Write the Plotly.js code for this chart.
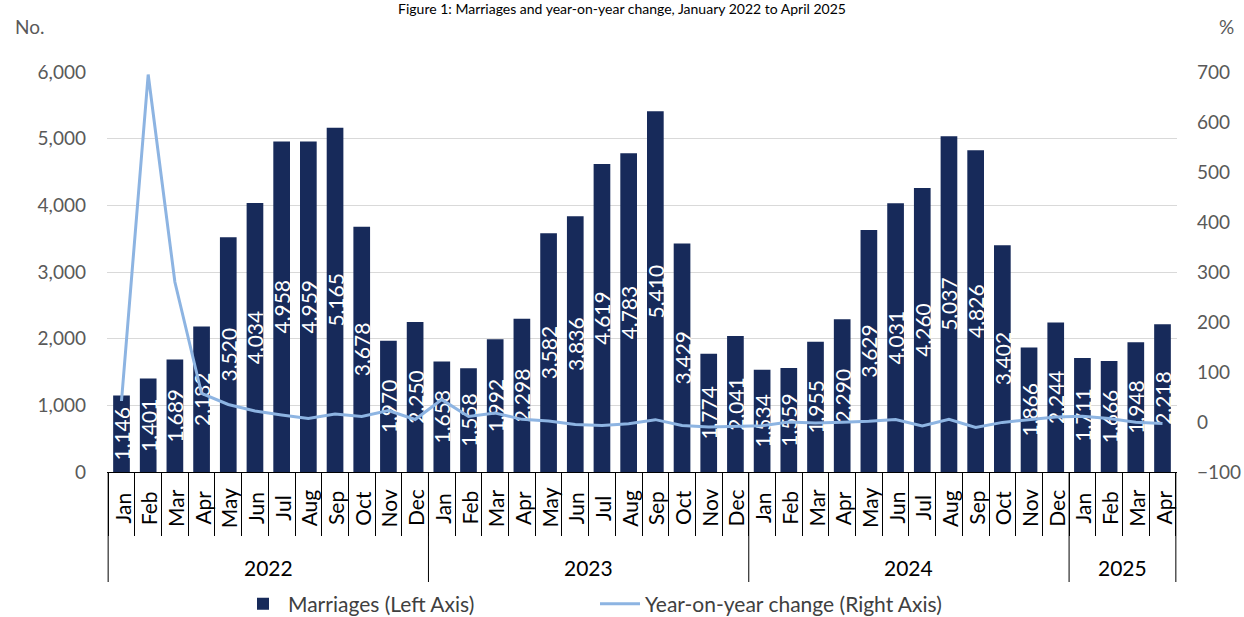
<!DOCTYPE html>
<html>
<head>
<meta charset="utf-8">
<script src="https://cdn.plot.ly/plotly-3.0.1.min.js"></script>
<style>html,body{margin:0;padding:0;background:#fff;}#chart{width:1244px;height:617px;}</style>
</head>
<body>
<div id="chart"></div>
<script>
const years = ['2022','2022','2022','2022','2022','2022','2022','2022','2022','2022','2022','2022',
               '2023','2023','2023','2023','2023','2023','2023','2023','2023','2023','2023','2023',
               '2024','2024','2024','2024','2024','2024','2024','2024','2024','2024','2024','2024',
               '2025','2025','2025','2025'];
const months = ['Jan','Feb','Mar','Apr','May','Jun','Jul','Aug','Sep','Oct','Nov','Dec',
                'Jan','Feb','Mar','Apr','May','Jun','Jul','Aug','Sep','Oct','Nov','Dec',
                'Jan','Feb','Mar','Apr','May','Jun','Jul','Aug','Sep','Oct','Nov','Dec',
                'Jan','Feb','Mar','Apr'];
const marriages = [1146,1401,1689,2182,3520,4034,4958,4959,5165,3678,1970,2250,
                   1658,1558,1992,2298,3582,3836,4619,4783,5410,3429,1774,2041,
                   1534,1559,1955,2290,3629,4031,4260,5037,4826,3402,1866,2244,
                   1711,1666,1948,2218];
const yoyChange = [42,695,280,57,35,22,14,7,16,11,23,5,
                   44.7,11.2,17.9,5.3,1.8,-4.9,-6.8,-3.5,4.7,-6.8,-9.9,-9.3,
                   -7.5,0.1,-1.9,-0.3,1.3,5.1,-7.8,5.3,-10.8,-0.8,5.2,9.9,
                   11.5,6.9,-0.4,-3.1];
const leftTicks = [0,1000,2000,3000,4000,5000,6000];
const rightTicks = [-100,0,100,200,300,400,500,600,700];

const FONT = 'Lato, "Liberation Sans", sans-serif';
const cats = years.map((y, i) => y + ' ' + months[i]);

const barTrace = {
  type: 'bar', name: 'Marriages (Left Axis)', x: cats, y: marriages,
  marker: {color: '#172a5a'},
  texttemplate: '%{y:,.0f}', textposition: 'inside', textangle: -90,
  insidetextanchor: 'middle', constraintext: 'none',
  textfont: {family: FONT, size: 21, color: '#ffffff'},
  hoverinfo: 'skip'
};
const lineTrace = {
  type: 'scatter', mode: 'lines', name: 'Year-on-year change (Right Axis)',
  x: cats, y: yoyChange, yaxis: 'y2',
  line: {color: '#8db4e2', width: 3},
  hoverinfo: 'skip'
};

// plot box in pixels
const L = 107, R = 67, T = 72, B = 145, W = 1244, H = 617;
const PW = W - L - R, PH = H - T - B;

const annotations = [];
const shapes = [];
months.forEach((m, i) => {
  annotations.push({text: m, x: i, xref: 'x', y: -36 / PH, yref: 'paper',
    textangle: -90, showarrow: false, xanchor: 'center', yanchor: 'middle',
    font: {family: FONT, size: 21, color: '#000000'}});
});
let start = 0;
for (let i = 1; i <= years.length; i++) {
  if (i === years.length || years[i] !== years[start]) {
    annotations.push({text: years[start], x: (start + i - 1) / 2, xref: 'x',
      y: -95 / PH, yref: 'paper', showarrow: false, xanchor: 'center', yanchor: 'middle',
      font: {family: FONT, size: 21, color: '#000000'}});
    shapes.push({type: 'line', xref: 'x', yref: 'paper', x0: start - 0.5, x1: start - 0.5,
      y0: 0, y1: -110 / PH, line: {color: '#000000', width: 1}});
    start = i;
  }
}
shapes.push({type: 'line', xref: 'x', yref: 'paper', x0: years.length - 0.5, x1: years.length - 0.5,
  y0: 0, y1: -110 / PH, line: {color: '#000000', width: 1}});

annotations.push({text: 'No.', xref: 'paper', yref: 'paper', x: (13 - L) / PW, y: (H - B - 26) / PH,
  showarrow: false, xanchor: 'left', yanchor: 'middle', font: {family: FONT, size: 19, color: '#595959'}});
annotations.push({text: '%', xref: 'paper', yref: 'paper', x: (1236 - L) / PW, y: (H - B - 26) / PH,
  showarrow: false, xanchor: 'right', yanchor: 'middle', font: {family: FONT, size: 19, color: '#595959'}});

const layout = {
  width: W, height: H,
  margin: {l: L, r: R, t: T, b: B},
  paper_bgcolor: '#ffffff', plot_bgcolor: '#ffffff',
  font: {family: FONT, size: 16, color: '#595959'},
  bargap: 0.375,
  showlegend: true,
  title: {text: 'Figure 1: Marriages and year-on-year change, January 2022 to April 2025',
          font: {family: FONT, size: 14, color: '#000000'},
          x: 0.5, xref: 'container', y: (H - 4) / H, yref: 'container', yanchor: 'top', pad: {t: 0}},
  legend: {orientation: 'h', xref: 'container', yref: 'container', x: 238 / W, xanchor: 'left',
           y: 13 / H, yanchor: 'middle', font: {family: FONT, size: 21, color: '#404040'},
           entrywidth: 302, entrywidthmode: 'pixels', itemwidth: 40, traceorder: 'normal'},
  xaxis: {
    type: 'category', showline: true, linecolor: '#000000', linewidth: 1,
    ticks: 'outside', tickson: 'boundaries', ticklen: 63, tickcolor: '#000000', tickwidth: 1,
    showticklabels: false, showgrid: false, zeroline: false
  },
  yaxis: {
    range: [0, 6000], tickvals: leftTicks, tickformat: ',', showgrid: true,
    gridcolor: '#d9d9d9', gridwidth: 1, zeroline: false, showline: false,
    tickfont: {family: FONT, size: 19, color: '#595959'}, ticks: '', ticklabelstandoff: 20
  },
  yaxis2: {
    range: [-100, 700], tickvals: rightTicks, overlaying: 'y', side: 'right',
    showgrid: false, zeroline: false, showline: false, ticks: '',
    tickfont: {family: FONT, size: 19, color: '#595959'}, ticklabelstandoff: 19
  },
  annotations: annotations,
  shapes: shapes
};

Plotly.newPlot('chart', [barTrace, lineTrace], layout, {displayModeBar: false, staticPlot: true});
</script>
</body>
</html>
